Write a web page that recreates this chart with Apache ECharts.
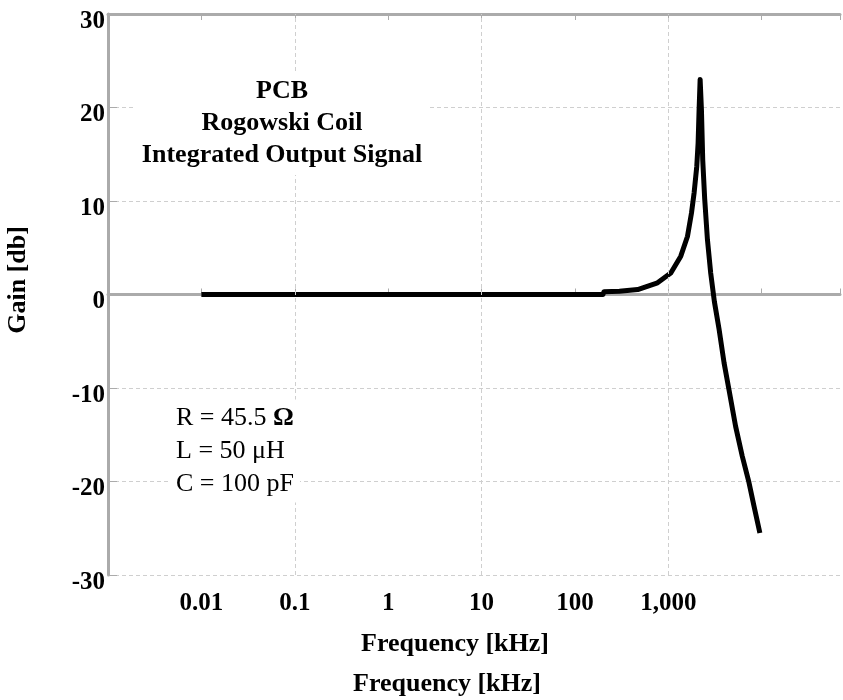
<!DOCTYPE html>
<html>
<head>
<meta charset="UTF-8">
<title>Rogowski Coil gain</title>
<script src="https://cdn.jsdelivr.net/npm/echarts@6/dist/echarts.min.js"></script>
<style>
  html, body { margin: 0; padding: 0; background: #fff; }
  #chart { width: 843px; height: 700px; }
</style>
</head>
<body>
<div id="chart"></div>
<script>
// frequency in kHz, gain in dB
var freqKHz = [0.01, 200, 205, 300, 470, 767, 1064, 1361, 1604, 1771, 1892, 2018, 2086, 2138, 2193,
               2264, 2338, 2455, 2624, 2845, 3115, 3497, 3955, 4470, 5260, 6200, 7310, 8260, 9570];
var gainDb  = [0, 0, 0.3, 0.35, 0.53, 1.25, 2.3, 4.1, 6.2, 8.7, 10.9, 13.7, 16.2, 19.8, 23.0,
               19.8, 14.4, 10.2, 5.9, 2.3, -0.75, -3.7, -7.3, -10.2, -14.1, -17.3, -20.1, -22.6, -25.5];

var xTickValues = [0.01, 0.1, 1, 10, 100, 1000];
var xTickLabels = ['0.01', '0.1', '1', '10', '100', '1,000'];
var xGridValues = [0.1, 10, 1000];

var titleLines = ['PCB', 'Rogowski Coil', 'Integrated Output Signal'];
var paramLines = ['R = 45.5 {b|\u03A9}', 'L = 50 \u03BCH', 'C = 100 pF'];

var SERIF = '"Liberation Serif", "Times New Roman", serif';
var AXIS_GRAY = '#ababab';
var GRID_GRAY = '#cfcfcf';

var chart = echarts.init(document.getElementById('chart'));

function xLabel(v) {
  for (var i = 0; i < xTickValues.length; i++) {
    if (Math.abs(Math.log10(v) - Math.log10(xTickValues[i])) < 1e-6) return xTickLabels[i];
  }
  return '';
}

var points = freqKHz.map(function (f, i) { return [f, gainDb[i]]; });

var logAxisBase = {
  type: 'log',
  logBase: 10,
  min: 0.001,
  max: 69000,
  axisLine: { show: true, lineStyle: { color: AXIS_GRAY, width: 3 } },
  axisTick: { show: true, inside: true, length: 6, lineStyle: { color: AXIS_GRAY, width: 1 } },
  splitLine: { show: false },
  minorTick: { show: false }
};

chart.setOption({
  animation: false,
  backgroundColor: '#fff',
  grid: { left: 108, right: 0, top: 14, bottom: 125, containLabel: false },
  xAxis: [
    Object.assign({}, logAxisBase, {
      position: 'bottom',
      axisLabel: {
        margin: 16,
        formatter: xLabel,
        color: '#000',
        fontFamily: SERIF,
        fontWeight: 'bold',
        fontSize: 25
      }
    }),
    Object.assign({}, logAxisBase, {
      position: 'top',
      axisLabel: { show: false }
    })
  ],
  yAxis: {
    type: 'value',
    min: -30,
    max: 30,
    interval: 10,
    axisLine: { show: true, lineStyle: { color: AXIS_GRAY, width: 3 } },
    axisTick: { show: true, inside: true, length: 9, lineStyle: { color: AXIS_GRAY, width: 1 } },
    axisLabel: {
      margin: 3,
      verticalAlign: 'top',
      lineHeight: 15,
      color: '#000',
      fontFamily: SERIF,
      fontWeight: 'bold',
      fontSize: 25
    },
    splitLine: { show: true, lineStyle: { color: GRID_GRAY, width: 1, type: [4, 3] } }
  },
  series: [{
    type: 'line',
    xAxisIndex: 0,
    data: points,
    showSymbol: false,
    smooth: false,
    lineStyle: { color: '#000', width: 5, join: 'round' },
    markLine: {
      silent: true,
      symbol: ['none', 'none'],
      label: { show: false },
      lineStyle: { color: GRID_GRAY, width: 1, type: [4, 3] },
      data: xGridValues.map(function (v) { return { xAxis: v }; })
    },
    z: 3
  }],
  graphic: [
    {
      type: 'text',
      x: 282, y: 123,
      z: 10,
      style: {
        text: titleLines.join('\n'),
        font: 'bold 26px ' + SERIF,
        lineHeight: 32,
        fill: '#000',
        align: 'center',
        verticalAlign: 'middle',
        backgroundColor: '#fff',
        padding: [4, 6]
      }
    },
    {
      type: 'text',
      x: 170, y: 451,
      z: 10,
      style: {
        text: paramLines.join('\n'),
        font: '26px ' + SERIF,
        lineHeight: 33,
        fill: '#000',
        align: 'left',
        verticalAlign: 'middle',
        backgroundColor: '#fff',
        padding: [2, 6],
        rich: {
          b: { font: 'bold 26px ' + SERIF, fill: '#000' }
        }
      }
    },
    {
      type: 'text',
      x: 455, y: 644,
      style: {
        text: 'Frequency [kHz]',
        font: 'bold 26px ' + SERIF,
        fill: '#000',
        align: 'center',
        verticalAlign: 'middle'
      }
    },
    {
      type: 'text',
      x: 447, y: 684,
      style: {
        text: 'Frequency [kHz]',
        font: 'bold 26px ' + SERIF,
        fill: '#000',
        align: 'center',
        verticalAlign: 'middle'
      }
    },
    {
      type: 'text',
      x: 18, y: 280,
      rotation: Math.PI / 2,
      style: {
        text: 'Gain [db]',
        font: 'bold 26px ' + SERIF,
        fill: '#000',
        align: 'center',
        verticalAlign: 'middle'
      }
    }
  ]
});
</script>
</body>
</html>
